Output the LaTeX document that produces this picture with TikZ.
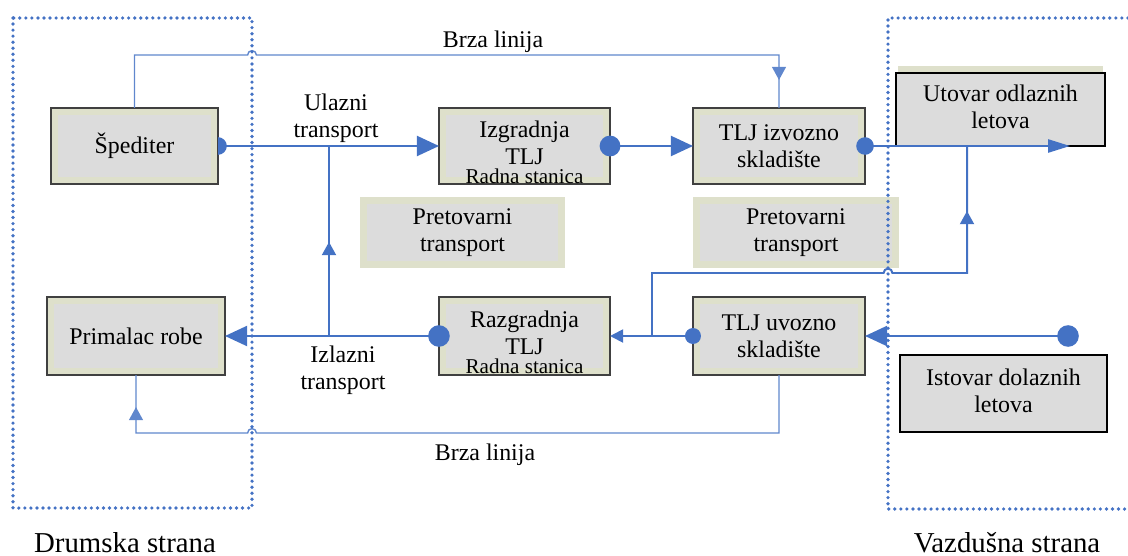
\documentclass[tikz,border=0pt]{standalone}
\usepackage{fontspec}
\IfFontExistsTF{LiberationSerif-Regular.ttf}{\setmainfont{LiberationSerif-Regular.ttf}}{\setmainfont{Liberation Serif}}
\usetikzlibrary{arrows.meta,decorations.markings}
\definecolor{LinkBlue}{HTML}{4472C4}
\definecolor{PaleOlive}{HTML}{DEE0CB}
\definecolor{BoxGrey}{HTML}{DCDCDC}
\definecolor{EdgeGrey}{HTML}{404040}
\newcommand{\liftxt}[2]{\raisebox{#1}{\begin{tabular}{@{}c@{}}#2\end{tabular}}}

\begin{document}
\begin{tikzpicture}[x=0.025cm,y=-0.025cm,font=\fontsize{17}{19}\selectfont,
  stn/.style={draw=EdgeGrey,line width=0.8pt,fill=PaleOlive,inner sep=0pt,outer sep=0pt,align=center,
    path picture={\fill[BoxGrey] ([shift={(0.18cm,0.18cm)}]path picture bounding box.south west) rectangle ([shift={(-0.18cm,-0.18cm)}]path picture bounding box.north east);}},
  pret/.style={stn,draw=none},
  air/.style={draw=black,line width=1.4pt,fill=BoxGrey,inner sep=0pt,outer sep=0pt,align=center},
  flow/.style={color=LinkBlue,line width=1.4pt},
  fast/.style={color=LinkBlue!85,line width=1pt},
  big/.style={-{Triangle[length=0.55cm,width=0.5cm]}},
  side/.style={draw=LinkBlue,line width=2.6pt,line cap=round,dash pattern=on 0pt off 4.3pt},
  midtip/.style={postaction={decorate,decoration={markings,mark=at position #1 with {\arrow{Triangle[length=0.33cm,width=0.35cm]}}}}}]
\useasboundingbox (0,0) rectangle (1128,556);

% stanice
\node[stn,minimum width=4.175cm,minimum height=1.9cm] (sped) at (134.5,146) {Špediter};
\node[stn,minimum width=4.45cm,minimum height=1.95cm] (prim) at (136,336) {Primalac robe};
\node[stn,minimum width=4.275cm,minimum height=1.9cm] (izg) at (524.5,146) {\liftxt{3pt}{Izgradnja\\TLJ}};
\node[stn,minimum width=4.3cm,minimum height=1.9cm] (izv) at (779,146) {TLJ izvozno\\skladište};
\node[stn,minimum width=4.275cm,minimum height=1.95cm] (razg) at (524.5,336) {\liftxt{3pt}{Razgradnja\\TLJ}};
\node[stn,minimum width=4.3cm,minimum height=1.95cm] (uvo) at (779,336) {TLJ uvozno\\skladište};
\node[anchor=base,font=\fontsize{15}{17}\selectfont] (izgrs) at ([yshift=0.5pt]izg.south) {Radna stanica};
\node[anchor=base,font=\fontsize{15}{17}\selectfont] (razgrs) at ([yshift=1.2pt]razg.south) {Radna stanica};
\node[pret,minimum width=5.125cm,minimum height=1.775cm] (pretl) at (462.5,232.5) {Pretovarni\\transport};
\node[pret,minimum width=5.15cm,minimum height=1.775cm] (pretr) at (796,232.5) {Pretovarni\\transport};
\fill[PaleOlive] (898,66) rectangle (1103,110);
\node[air,minimum width=5.225cm,minimum height=1.825cm] (utov) at (1000.5,109.5) {\liftxt{4pt}{Utovar odlaznih\\letova}};
\node[air,minimum width=5.175cm,minimum height=1.925cm] (ist) at (1003.5,393.5) {\liftxt{5pt}{Istovar dolaznih\\letova}};

% veze
\coordinate (up0) at (329,336);
\coordinate (up1) at (329,146);
\coordinate (out) at (1070,146);
\coordinate (drop) at (1068,336);
\coordinate (br0) at (652,336);
\coordinate (br1) at (967,146);
\draw[fast,midtip=-0.7cm] (sped.north) -- (sped.north |- 0,55) -- (247.6,55) arc[start angle=180,end angle=0,radius=0.11cm] -- (izv.north |- 0,55) -- (izv.north);
\draw[flow,big] (sped.east) -- (izg.west);
\draw[flow,midtip=2.35cm] (up0) -- (up1);
\draw[flow,big] (izg.east) -- (izv.west);
\draw[flow,-{Triangle[length=0.55cm,width=0.33cm]}] (izv.east) -- (out);
\draw[flow,midtip=-1.625cm] (br0) -- (br0 |- 0,273) -- (883.6,273) arc[start angle=180,end angle=0,radius=0.11cm] -- (br1 |- 0,273) -- (br1);
\draw[flow,-{Triangle[length=0.33cm,width=0.33cm]}] (uvo.west) -- (razg.east);
\draw[flow,big] (razg.west) -- (prim.east);
\draw[flow,big] (drop) -- (uvo.east);
\draw[fast,midtip=-0.8cm] (uvo.south) -- (uvo.south |- 0,433) -- (256.4,433) arc[start angle=0,end angle=180,radius=0.11cm] -- (prim.south |- 0,433) -- (prim.south);
\fill[LinkBlue] ([yshift=0.22cm]sped.east) arc[start angle=90,end angle=-90,radius=0.22cm] -- cycle;
\fill[LinkBlue] (izg.east) circle[radius=0.26cm];
\fill[LinkBlue] (izv.east) circle[radius=0.22cm];
\fill[LinkBlue] (razg.west) circle[radius=0.27cm];
\fill[LinkBlue] (uvo.west) circle[radius=0.2cm];
\fill[LinkBlue] (drop) circle[radius=0.27cm];

% natpisi
\node[anchor=base] (brzag) at (493,48) {Brza linija};
\node[anchor=base] (brzad) at (485,460) {Brza linija};
\node[align=center] (ulaz) at (336,118) {Ulazni\\transport};
\node[align=center] (izlaz) at (343,370) {Izlazni\\transport};

% strane
\draw[side] (13,18) rectangle (252,508);
\draw[side] (1140,18) -- (888,18) -- (888,509) -- (1140,509);
\node[anchor=base,font=\fontsize{20.5}{24}\selectfont] (drum) at (125,552) {Drumska strana};
\node[anchor=base,font=\fontsize{20.5}{24}\selectfont] (vazd) at (1007,552) {Vazdušna strana};
\end{tikzpicture}
\end{document}
